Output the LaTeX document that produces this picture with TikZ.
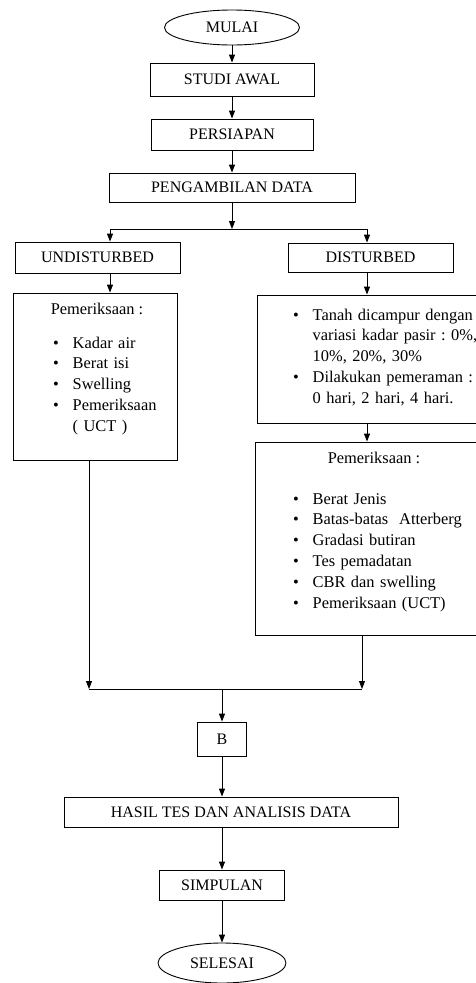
\documentclass[tikz,border=0pt]{standalone}
\usepackage{fontspec}
\setmainfont{Liberation Serif}
\usetikzlibrary{arrows.meta, positioning, calc, shapes.geometric}
\setlength{\parindent}{0pt}
\frenchspacing

\newcommand{\butir}[1]{\makebox[19.5pt][l]{\textbullet}#1}
\newcommand{\lanjut}[1]{\hspace*{19.5pt}#1}

\begin{document}
\begin{tikzpicture}[x=1pt, y=-1pt,
    kotak/.style={draw, rectangle, inner sep=0pt, line width=0.9pt, font=\fontsize{16}{20}\selectfont},
    ujung/.style={draw, ellipse, inner sep=0pt, line width=0.9pt, font=\fontsize{16}{20}\selectfont},
    judul/.style={inner sep=0pt, anchor=base, font=\fontsize{16.4}{20.8}\selectfont},
    isi/.style={inner sep=0pt, anchor=base west, text width=260pt, align=left, font=\fontsize{16.4}{20.8}\selectfont},
    panah/.style={-{Triangle[length=8pt,width=6pt]}, line width=0.9pt},
    garis/.style={line width=0.9pt}]

    % Page frame
    \clip (0,0) rectangle (476,983);

    % Start and first steps
    \node[ujung, minimum width=135pt, minimum height=35pt] (mulai) at (232,27.5) {MULAI};
    \node[kotak, minimum width=164pt, minimum height=33pt] (studi) at (232,79.5) {STUDI AWAL};
    \node[kotak, minimum width=162pt, minimum height=31pt] (siap) at (232,134.5) {PERSIAPAN};
    \node[kotak, minimum width=246pt, minimum height=29pt] (ambil) at (232,187.5) {PENGAMBILAN DATA};

    \draw[panah] (mulai) -- (studi);
    \draw[panah] (studi) -- (siap);
    \draw[panah] (siap) -- (ambil);

    % Split into two branches
    \coordinate (cabang) at (232,229);
    \coordinate (cabangL) at (110,229);
    \coordinate (cabangR) at (367,229);
    \draw[panah] (ambil) -- (cabang);
    \draw[garis] (cabangL) -- (cabangR);

    % Left branch
    \node[kotak, minimum width=165pt, minimum height=31pt] (undist) at (97.5,257.5) {UNDISTURBED};
    \node[kotak, minimum width=164pt, minimum height=167pt] (periksaA) at (95,376.5) {};
    \node[judul] (judulA) at (97,314) {Pemeriksaan :};
    \node[isi] (daftarA) at (53,348) {\butir{Kadar air}\\ \butir{Berat isi}\\ \butir{Swelling}\\ \butir{Pemeriksaan}\\ \lanjut{( UCT )}};

    \draw[panah] (cabangL) -- (cabangL |- undist.north);
    \draw[panah] (cabangL |- undist.south) -- (cabangL |- periksaA.north);

    % Right branch
    \node[kotak, minimum width=165pt, minimum height=29pt] (dist) at (370.5,257.5) {DISTURBED};
    \node[kotak, minimum width=233pt, minimum height=128pt] (campur) at (373.5,359) {};
    \node[isi] (daftarB) at (293,320) {\butir{Tanah dicampur dengan}\\ \lanjut{variasi kadar pasir : 0\%,}\\ \lanjut{10\%, 20\%, 30\%}\\ \butir{Dilakukan pemeraman :}\\ \lanjut{0 hari, 2 hari, 4 hari.}};
    \node[kotak, minimum width=235pt, minimum height=193pt] (periksaB) at (372.5,538.5) {};
    \node[judul] (judulB) at (374,463) {Pemeriksaan :};
    \node[isi] (daftarC) at (293,504) {\butir{Berat Jenis}\\ \butir{Batas-batas~ Atterberg}\\ \butir{Gradasi butiran}\\ \butir{Tes pemadatan}\\ \butir{CBR dan swelling}\\ \butir{Pemeriksaan (UCT)}};

    \draw[panah] (cabangR) -- (cabangR |- dist.north);
    \draw[panah] (cabangR |- dist.south) -- (cabangR |- campur.north);
    \draw[panah] (cabangR |- campur.south) -- (cabangR |- periksaB.north);

    % Join of the two branches
    \coordinate (gabungL) at (89,689);
    \coordinate (gabungR) at (362,689);
    \coordinate (gabung) at (222,689);
    \draw[panah] (gabungL |- periksaA.south) -- (gabungL);
    \draw[panah] (gabungR |- periksaB.south) -- (gabungR);
    \draw[garis] (gabungL) -- (gabungR);

    % Final steps
    \node[kotak, minimum width=49pt, minimum height=34pt] (b) at (222,739) {B};
    \node[kotak, minimum width=334pt, minimum height=30pt] (hasil) at (231,812) {HASIL TES DAN ANALISIS DATA};
    \node[kotak, minimum width=125pt, minimum height=30pt] (simpulan) at (222,885) {SIMPULAN};
    \node[ujung, minimum width=128pt, minimum height=40pt] (selesai) at (222,963) {SELESAI};

    \draw[panah] (gabung) -- (b);
    \draw[panah] (b) -- (b |- hasil.north);
    \draw[panah] (b |- hasil.south) -- (simpulan);
    \draw[panah] (simpulan) -- (selesai);

\end{tikzpicture}
\end{document}
